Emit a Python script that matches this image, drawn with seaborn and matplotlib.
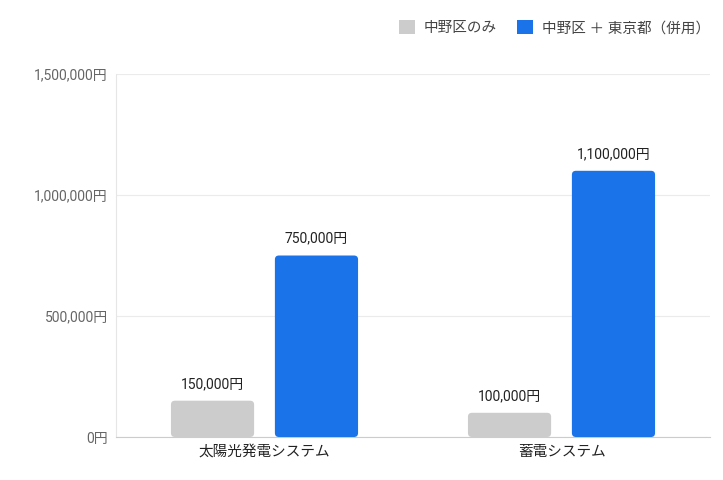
import numpy as np
import pandas as pd
import matplotlib
matplotlib.use("Agg")
import matplotlib.pyplot as plt
from matplotlib.patches import FancyBboxPatch
import seaborn as sns

# ---------------------------------------------------------------------------
# Data
# ---------------------------------------------------------------------------
categories = ["太陽光発電システム", "蓄電システム"]
series_names = ["中野区のみ", "中野区 ＋ 東京都（併用）"]
nakano_only = [150000, 100000]
nakano_tokyo = [750000, 1100000]
y_ticks = [0, 500000, 1000000, 1500000]

colors = ["#cccccc", "#1a73e8"]

df = pd.DataFrame({
    "category": categories * 2,
    "series": [series_names[0]] * 2 + [series_names[1]] * 2,
    "value": nakano_only + nakano_tokyo,
})

# ---------------------------------------------------------------------------
# Figure
# ---------------------------------------------------------------------------
sns.set_style("white")
plt.rcParams["font.family"] = ["Roboto", "Noto Sans CJK JP", "DejaVu Sans"]

fig = plt.figure(figsize=(7.23, 4.80), dpi=100)
ax = fig.add_axes([116 / 723, 43 / 480, 594 / 723, 363 / 480])

sns.barplot(data=df, x="category", y="value", hue="series",
            palette=colors, width=0.7, gap=0.2, ax=ax, legend=False,
            saturation=1)

ax.set_ylim(0, 1500000)
ax.set_xlim(-0.5, 1.5)

# swap plain rectangles for rounded ones
px_x = 594 / 2.0           # pixels per x unit
px_y = 363 / 1500000.0     # pixels per y unit
radius_px = 4
for bar in list(ax.patches):
    x, y = bar.get_x(), bar.get_y()
    w, h = bar.get_width(), bar.get_height()
    fc = bar.get_facecolor()
    bar.remove()
    rounded = FancyBboxPatch(
        (x, y), w, h,
        boxstyle=f"round,pad=0,rounding_size={radius_px / px_x}",
        mutation_aspect=px_x / px_y,
        facecolor=fc, edgecolor="none", zorder=3)
    ax.add_patch(rounded)
    ax.annotate(f"{int(h):,}円", (x + w / 2, h), xytext=(0, 7),
                textcoords="offset points", ha="center", va="bottom",
                fontsize=10, color="#222222")

# axes styling
ax.set_yticks(y_ticks)
ax.set_yticklabels([f"{v:,}円" for v in y_ticks])
ax.yaxis.grid(True, color="#ebebeb", linewidth=0.8)
ax.set_axisbelow(True)
for side in ["top", "right"]:
    ax.spines[side].set_visible(False)
ax.spines["left"].set_color("#e6e6e6")
ax.spines["bottom"].set_color("#cccccc")
ax.tick_params(axis="y", length=4, color="#e0e0e0", labelsize=10,
               labelcolor="#666666", pad=2)
ax.tick_params(axis="x", length=0, labelsize=10.5, labelcolor="#222222", pad=6)
ax.set_xlabel("")
ax.set_ylabel("")

# legend
handles = [plt.Rectangle((0, 0), 1, 1, facecolor=c, edgecolor="none") for c in colors]
fig.legend(handles, series_names, loc="upper right", bbox_to_anchor=(1.0, 0.985),
           ncol=2, frameon=False, fontsize=10.5, handlelength=1.1, handleheight=1.1,
           handletextpad=0.6, columnspacing=1.4, labelcolor="#444444")

fig.savefig("out.png", dpi=100)
